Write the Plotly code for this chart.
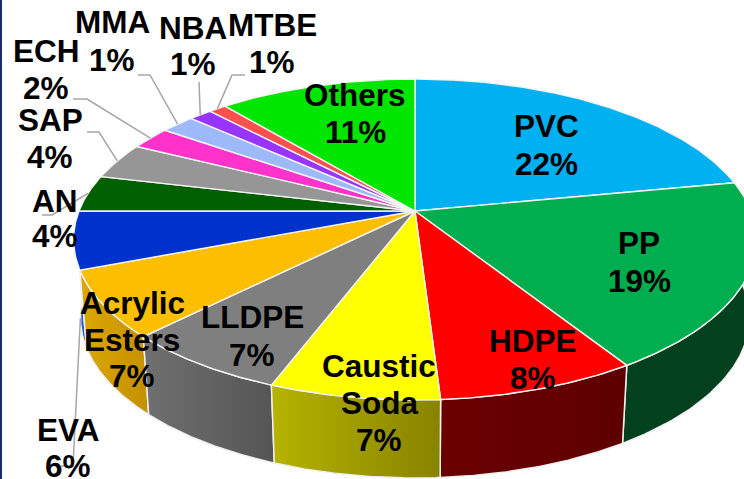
import numpy as np
import plotly.graph_objects as go

# ---- data
categories = ["PVC", "PP", "HDPE", "Caustic Soda", "LLDPE", "Acrylic Esters", "EVA",
              "AN", "SAP", "ECH", "MMA", "NBA", "MTBE", "Others"]
shares = [22.0, 19.0, 8.0, 6.8, 6.7, 6.7, 5.8, 3.7, 3.7, 2.3, 1.9, 1.3, 1.0, 11.1]
percent_labels = ["22%", "19%", "8%", "7%", "7%", "7%", "6%", "4%", "4%", "2%", "1%", "1%", "1%", "11%"]

# ---- styles
top_colors = ["#00B0F0", "#00AE4F", "#FF0000", "#FFFF00", "#7F7F7F", "#FCBE00", "#0033CC",
              "#006000", "#969696", "#FF33CC", "#9DB9F9", "#9933FF", "#FF5050", "#00E600"]
wall_colors = {
    "PP": ("#03401E", "#03401E"),
    "EVA": ("#2A5AD0", "#2A5AD0"),
    "Acrylic Esters": ("#DCA800", "#C49000"),
    "LLDPE": ("#707070", "#555555"),
    "HDPE": ("#6A0000", "#5E0000"),
    "Caustic Soda": ("#B6B300", "#878300"),
}

# ---- layout: perspective projection of the pie disc onto the picture
CX, CY, AX, CZ, K = 415.0, 211.0, 336.0, 155.4, 0.1776
DEPTH, BOTTOM_SCALE = 78.0, 0.98
FONT = dict(family="Liberation Sans, Arial, sans-serif", size=31.5, color="black")

def top_rim(pct):
    th = np.radians(np.asarray(pct, float) * 3.6)
    sx, t = np.sin(th), -np.cos(th)
    w = 1 - K * t
    return CX + AX * sx / w, CY + CZ * t / w

def bottom_rim(pct):
    th = np.radians(np.asarray(pct, float) * 3.6)
    sx, t = np.sin(th), -np.cos(th)
    w = 1 - K * t
    return CX + BOTTOM_SCALE * AX * sx / w, CY + DEPTH + CZ * t / w

edges = np.concatenate([[0.0], np.cumsum(shares)])
span = {c: (edges[i], edges[i + 1]) for i, c in enumerate(categories)}
mid = {c: (edges[i] + edges[i + 1]) / 2 for i, c in enumerate(categories)}

fig = go.Figure()

# side walls, back to front
for name in ["PP", "EVA", "Acrylic Esters", "LLDPE", "HDPE", "Caustic Soda"]:
    a, b = span[name]
    p = np.linspace(a, b, 80)
    xt, yt = top_rim(p)
    xb, yb = bottom_rim(p[::-1])
    c1, c2 = wall_colors[name]
    fig.add_trace(go.Scatter(
        x=np.r_[xt, xb, xt[0]], y=np.r_[yt, yb, yt[0]], mode="lines", fill="toself",
        fillgradient=dict(type="horizontal", colorscale=[[0, c1], [1, c2]]),
        line=dict(color="#EFEFEF", width=1.5), hoverinfo="skip", showlegend=False))

# top slices
for i, name in enumerate(categories):
    p = np.linspace(edges[i], edges[i + 1], max(8, int(shares[i] * 8)))
    x, y = top_rim(p)
    fig.add_trace(go.Scatter(
        x=np.r_[CX, x, CX], y=np.r_[CY, y, CY], mode="lines", fill="toself",
        fillcolor=top_colors[i], line=dict(color="#F4F4F4", width=1.4),
        hoverinfo="skip", showlegend=False))

# leader lines: from a label elbow to the rim of the slice
leaders = {
    "MTBE": [(245, 75), (232, 75)],
    "NBA": [(199, 82)],
    "MMA": [(138, 75), (150, 75)],
    "ECH": [(73, 99), (87, 99)],
    "SAP": [(87, 132), (99, 132)],
    "AN": [(42, 215), (52, 215)],
}
for name, pts in leaders.items():
    ex, ey = top_rim(mid[name])
    fig.add_trace(go.Scatter(
        x=[q[0] for q in pts] + [float(ex)], y=[q[1] for q in pts] + [float(ey)], mode="lines",
        line=dict(color="#A6A6A6", width=1.5), hoverinfo="skip", showlegend=False))
ex, ey = bottom_rim(mid["EVA"])
fig.add_trace(go.Scatter(
    x=[61, 73, float(ex)], y=[466, 466, float(ey)], mode="lines",
    line=dict(color="#A6A6A6", width=1.5), hoverinfo="skip", showlegend=False))

# labels: category -> (centre x, baseline of each line)
label_layout = {
    "PVC": (546, [137, 175]),
    "PP": (639, [254, 292]),
    "HDPE": (533, [352, 389]),
    "Caustic Soda": (379, [377, 414, 451]),
    "LLDPE": (252, [328, 366]),
    "Acrylic Esters": (132, [314, 351, 387]),
    "EVA": (68, [441, 477]),
    "AN": (55, [212, 247]),
    "SAP": (50, [131, 168]),
    "ECH": (46, [62, 99]),
    "MMA": (112, [33, 71]),
    "NBA": (193, [39, 75]),
    "MTBE": (272, [36, 73]),
    "Others": (355, [106, 143]),
}
annotations = []
for i, name in enumerate(categories):
    lx, bases = label_layout[name]
    lines = name.split(" ") + [percent_labels[i]]
    for line, base in zip(lines, bases):
        annotations.append(dict(
            x=lx, y=base - 11.5, xref="x", yref="y", text="<b>%s</b>" % line, showarrow=False,
            xanchor="center", yanchor="middle", font=FONT))

fig.update_layout(
    width=744, height=479, margin=dict(l=0, r=0, t=0, b=0),
    paper_bgcolor="white", plot_bgcolor="white", showlegend=False,
    xaxis=dict(range=[0, 744], visible=False, fixedrange=True),
    yaxis=dict(range=[479, 0], visible=False, fixedrange=True),
    annotations=annotations,
    shapes=[dict(type="rect", xref="paper", yref="paper", x0=0, x1=2 / 744, y0=0, y1=1,
                 fillcolor="#1B2C6E", line_width=0, layer="above")],
)
fig.write_html("out.html", config={"displayModeBar": False},
               post_script="document.body.style.margin='0';document.documentElement.style.overflow='hidden';")
